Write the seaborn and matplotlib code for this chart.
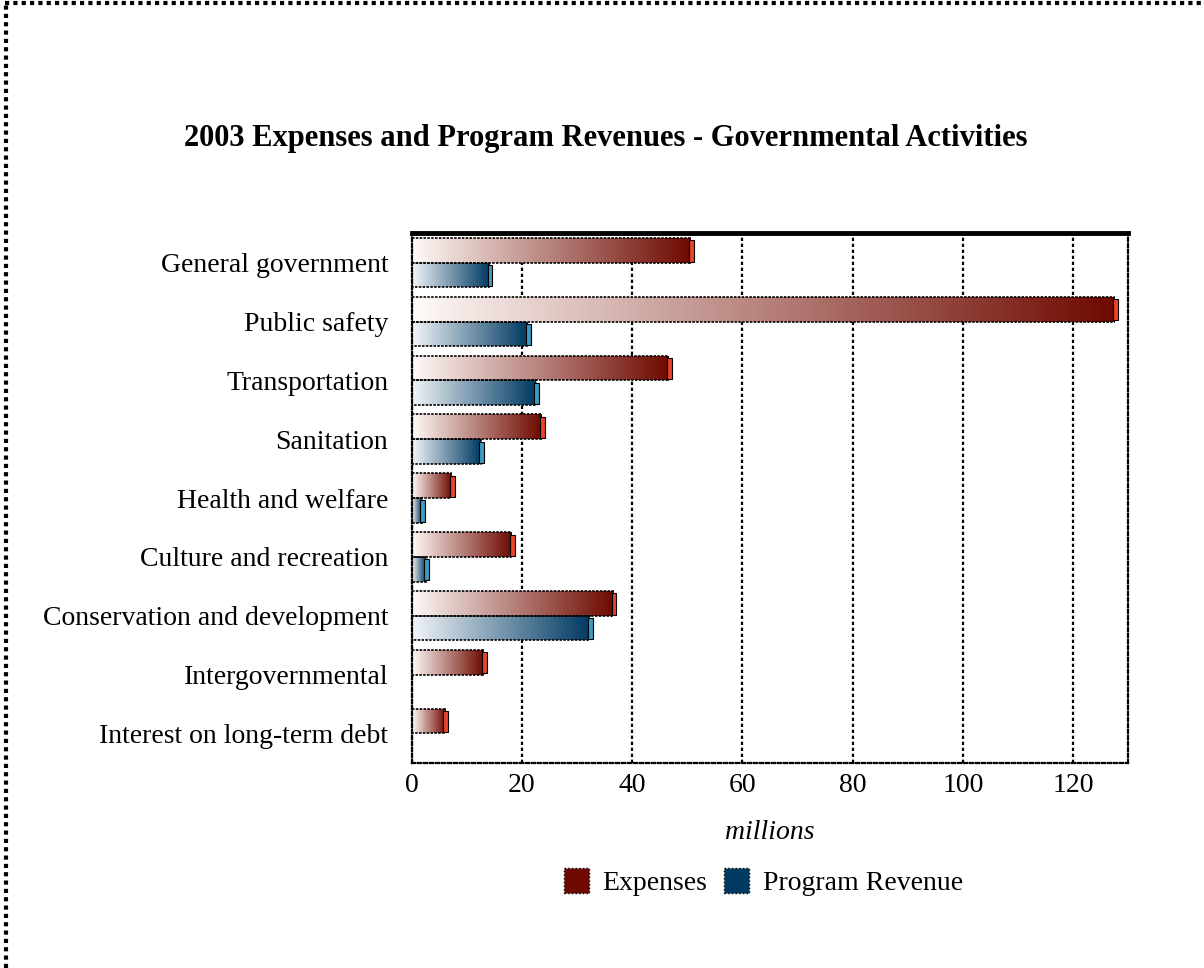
import numpy as np
import pandas as pd
import matplotlib.pyplot as plt
import seaborn as sns
from matplotlib.colors import LinearSegmentedColormap
from matplotlib.patches import Patch, Rectangle
from matplotlib.lines import Line2D

categories = ['General government', 'Public safety', 'Transportation', 'Sanitation',
              'Health and welfare', 'Culture and recreation',
              'Conservation and development', 'Intergovernmental',
              'Interest on long-term debt']
expenses = [50.5, 127.5, 46.5, 23.5, 7.2, 18.0, 36.5, 13.0, 6.0]
program_revenue = [14.0, 21.0, 22.5, 12.5, 1.8, 2.5, 32.3, 0.0, 0.0]
series = ['Expenses', 'Program Revenue']
x_ticks = [0, 20, 40, 60, 80, 100, 120]

dark = {'Expenses': '#6e0a00', 'Program Revenue': '#003a63'}
light = {'Expenses': '#fffaf8', 'Program Revenue': '#f2f5f8'}
cap = {'Expenses': '#e8432b', 'Program Revenue': '#3c9bc0'}

df = pd.DataFrame({
    'category': categories * 2,
    'series': ['Expenses'] * len(categories) + ['Program Revenue'] * len(categories),
    'value': expenses + program_revenue,
})

sns.set_style('white')
plt.rcParams['font.family'] = ['Liberation Serif', 'DejaVu Serif']
plt.rcParams['text.color'] = 'black'
plt.rcParams['xtick.color'] = 'black'
plt.rcParams['ytick.color'] = 'black'
plt.rcParams['axes.labelcolor'] = 'black'

fig = plt.figure(figsize=(12.04, 9.68), dpi=100)
ax = fig.add_axes([0.342, 0.212, 0.595, 0.547])

sns.barplot(data=df, y='category', x='value', hue='series', hue_order=series,
            order=categories, orient='h', width=0.84, palette=dark,
            edgecolor='black', linewidth=1.2, legend=False, ax=ax)

ylim = ax.get_ylim()
ax.set_xlim(0, 130)

# gradient fill + end cap for each bar
bars = list(ax.patches)
for i, p in enumerate(bars):
    s = series[i // len(categories)]
    x0, y0, w, h = p.get_x(), p.get_y(), p.get_width(), p.get_height()
    if w <= 0:
        p.set_visible(False)
        continue
    cm = LinearSegmentedColormap.from_list(s, [light[s], dark[s]])
    grad = np.linspace(0, 1, 256).reshape(1, -1)
    im = ax.imshow(grad, extent=[x0, x0 + w, y0 + h, y0], aspect='auto',
                   cmap=cm, zorder=2, interpolation='bicubic')
    im.set_clip_path(p)
    p.set_facecolor('none')
    p.set_zorder(3)
    p.set_linestyle((0, (1.5, 0.8)))
    ax.add_patch(Rectangle((x0 + w - 0.25, y0 + 0.04), 0.9, h - 0.06,
                           facecolor=cap[s], edgecolor='black', lw=0.8, zorder=4))

ax.set_ylim(ylim)
ax.set_xlim(0, 130)
ax.set_xticks(x_ticks)
ax.xaxis.grid(True, linestyle=(0, (1.5, 1.2)), color='black', lw=1.6)
ax.set_axisbelow(True)

for side in ['bottom', 'left', 'right']:
    ax.spines[side].set_visible(True)
    ax.spines[side].set_color('black')
    ax.spines[side].set_linestyle((0, (1.5, 1.2)))
    ax.spines[side].set_linewidth(1.6)
ax.spines['top'].set_linewidth(3.5)
ax.spines['top'].set_color('black')

ax.tick_params(axis='both', length=0, labelsize=20)
ax.tick_params(axis='y', pad=17)
ax.tick_params(axis='x', pad=7)
ax.set_ylabel('')
ax.set_xlabel('millions', fontsize=20, style='italic', labelpad=16)

fig.text(0.503, 0.857, '2003 Expenses and Program Revenues - Governmental Activities',
         ha='center', va='center', fontsize=22, fontweight='bold')

handles = [Patch(facecolor=dark[s], edgecolor='black', linestyle=':', label=s)
           for s in series]
fig.legend(handles=handles, loc='center', bbox_to_anchor=(0.634, 0.089), ncol=2,
           frameon=False, fontsize=20, handlelength=0.9, handleheight=1.0,
           handletextpad=0.5, columnspacing=0.6)

# dashed page border (top and left)
fig.add_artist(Line2D([0.004, 1.0], [0.997, 0.997], color='black', lw=3,
                      linestyle=(0, (1, 1))))
fig.add_artist(Line2D([0.005, 0.005], [0.0, 0.997], color='black', lw=3,
                      linestyle=(0, (1, 1))))

plt.savefig('out.png', dpi=100)
